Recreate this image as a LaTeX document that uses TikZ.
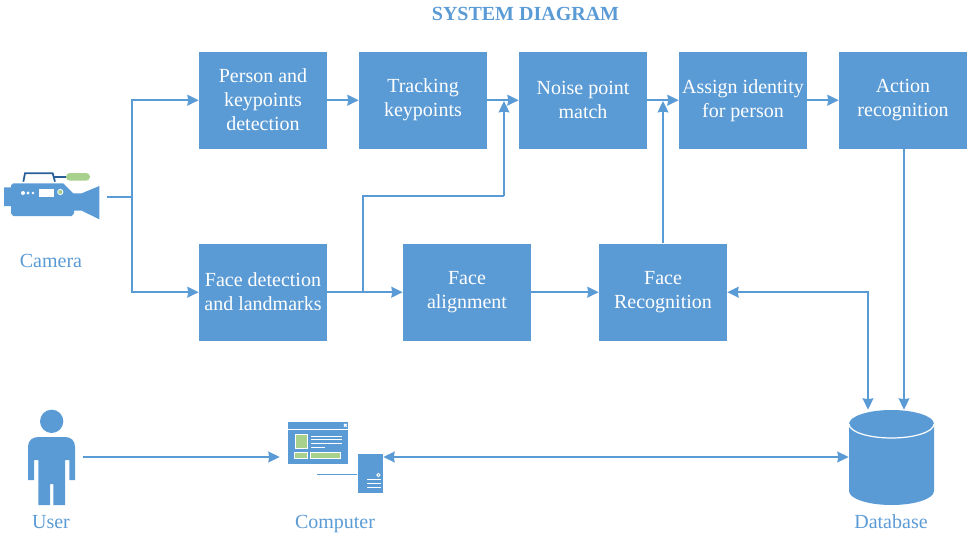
\documentclass[tikz,border=0pt]{standalone}
\usepackage{fontspec}
\setmainfont{Liberation Serif}
\usetikzlibrary{arrows.meta,calc}
\definecolor{bl}{HTML}{5B9BD5}
\definecolor{dbl}{HTML}{2A6099}
\definecolor{gr}{HTML}{A9D18E}
\newcommand\bxstrut{\rule[-0.4pt]{0pt}{18pt}}
\tikzset{
  procbox/.style={fill=bl,draw=none,minimum width=96pt,minimum height=72.75pt,inner sep=0pt,align=center,text=white,font=\fontsize{15}{18}\selectfont,execute at begin node=\bxstrut,execute at end node=\bxstrut},
  lbl/.style={text=bl,font=\fontsize{15}{18}\selectfont,inner sep=0pt,anchor=base},
  conn/.style={draw=bl,line width=1.5pt,-{Stealth[length=8.5pt,width=8pt,inset=.6pt]}},
  dconn/.style={draw=bl,line width=1.5pt,{Stealth[length=8.5pt,width=8pt,inset=.6pt]}-{Stealth[length=8.5pt,width=8pt,inset=.6pt]}},
  plain/.style={draw=bl,line width=1.5pt},
  anchorbox/.style={inner sep=0pt,minimum size=0pt,draw=none},
  wl/.style={draw=white,line width=.7pt},
}
\begin{document}
\begin{tikzpicture}[x=0.75pt,y=-0.75pt]
\useasboundingbox (0,0) rectangle (978,539);
\node[text=bl,font=\fontsize{15}{18}\selectfont\bfseries] (title) at (525.5,13.5) {SYSTEM DIAGRAM};
% process boxes
\node[procbox] (a) at (263,100.2) {Person and\\keypoints\\detection};
\node[procbox] (b) at (423,100.2) {Tracking\\keypoints};
\node[procbox] (c) at (583,100.2) {Noise point\\match};
\node[procbox] (d) at (743,100.2) {Assign identity\\for person};
\node[procbox] (e) at (903,100.2) {Action\\recognition};
\node[procbox] (f) at (263,292.2) {Face detection\\and landmarks};
\node[procbox] (g) at (467,292.2) {Face\\alignment};
\node[procbox] (h) at (663,292.2) {Face\\Recognition};
% labels
\node[lbl] (camlbl) at (51,267.5) {Camera};
\node[lbl] (userlbl) at (51,528) {User};
\node[lbl] (complbl) at (335,528) {Computer};
\node[lbl] (dblbl) at (891,528) {Database};
% camera icon
\begin{scope}[shift={(0,160)},x=0.25pt,y=-0.25pt]
\fill[bl] (12,82) -- (33,82) -- (33,76) -- (40,70) -- (190,70) -- (220,100) -- (245,100) -- (298,78) -- (298,178) -- (245,152) -- (222,152) -- (222,160) -- (215,168) -- (40,168) -- (33,160) -- (33,138) -- (12,138) -- cycle;
\draw[dbl,line width=1.3pt] (70,65) -- (75,40) -- (158,40) -- (165,65);
\draw[dbl,line width=1.3pt] (160,50) -- (200,50);
\fill[gr,rounded corners=2.8pt] (198,39) rectangle (270,62);
\fill[white] (69,99) circle (6) (84,99) circle (5) (99,99) circle (4);
\fill[white] (118,88) rectangle (162,112);
\filldraw[fill=gr,draw=white,line width=.6pt] (181,96) circle (8);
\end{scope}
% user icon
\begin{scope}[shift={(10,400)},x=0.25pt,y=-0.25pt]
\fill[bl] (125,64) circle (35);
\fill[bl] (54,240) -- (54,140) .. controls (54,122) and (67,111) .. (85,111) -- (165,111) .. controls (183,111) and (195,122) .. (195,140) -- (195,240) -- (178,240) -- (178,180) -- (165,180) -- (165,315) -- (130,315) -- (130,252) -- (120,252) -- (120,315) -- (85,315) -- (85,180) -- (72,180) -- (72,240) -- cycle;
\end{scope}
% computer icon
\begin{scope}[shift={(270,410)},x=0.25pt,y=-0.25pt]
\fill[bl] (54,36) rectangle (234,162);
\draw[wl] (54,58) -- (234,58);
\draw[white,line width=.8pt] (222,42) -- (230,50) (230,42) -- (222,50);
\filldraw[fill=gr,draw=white,line width=.7pt] (76,73) rectangle (112,116);
\draw[wl] (123,78) -- (216,78) (123,88) -- (216,88) (123,99) -- (216,99) (123,112) -- (165,112);
\filldraw[fill=gr,draw=white,line width=.7pt] (73,128) rectangle (113,146);
\filldraw[fill=gr,draw=white,line width=.7pt] (121,128) rectangle (212,146);
\fill[bl] (264,132) rectangle (339,248);
\draw[white,line width=.7pt] (325,195) circle (5);
\draw[white,line width=1pt] (291,209) -- (333,209) (291,221) -- (333,221) (291,232) -- (333,232);
\draw[bl,line width=.9pt] (141,193) -- (262,193);
\end{scope}
% database icon
\fill[bl] (849,424) arc[start angle=180,end angle=360,x radius=42.5,y radius=14] -- (934,491) arc[start angle=0,end angle=180,x radius=42.5,y radius=14] -- cycle;
\draw[white,line width=.9pt] (849,424) arc[start angle=180,end angle=0,x radius=42.5,y radius=14];
% anchors for connectors
\node[anchorbox] (cam) at (107,197) {};
\node[anchorbox] (user) at (83,457) {};
\node[anchorbox] (compl) at (280,457) {};
\node[anchorbox] (compr) at (383,457) {};
\node[anchorbox] (dbw) at (849,457) {};
\node[anchorbox] (dbn1) at (868,410) {};
\node[anchorbox] (dbn2) at (904,410) {};
\coordinate (j1) at (132,197);
\coordinate (j2) at (363,292.2);
\coordinate (j3) at (363,196);
\coordinate (j4) at (504,196);
\coordinate (j5) at (504,101);
\coordinate (j6) at (663,101);
% connectors
\draw[plain] (cam) -- (j1);
\draw[conn] (j1) |- (a.west);
\draw[conn] (j1) |- (f.west);
\draw[conn] (a) -- (b);
\draw[conn] (b) -- (c);
\draw[conn] (c) -- (d);
\draw[conn] (d) -- (e);
\draw[conn] (f) -- (g);
\draw[conn] (g) -- (h);
\draw[plain] (j2) -- (j3) -- (j4);
\draw[conn] (j4) -- (j5);
\draw[conn] (h.north) -- (j6);
\draw[conn] (e.south -| dbn2) -- (dbn2);
\draw[dconn] (h.east) -| (dbn1);
\draw[conn] (user) -- (compl);
\draw[dconn] (compr) -- (dbw);
\end{tikzpicture}
\end{document}
